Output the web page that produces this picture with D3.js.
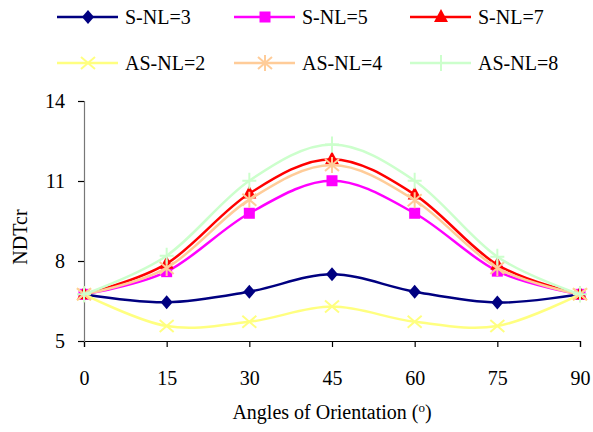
<!DOCTYPE html>
<html>
<head>
<meta charset="utf-8">
<script src="https://cdn.jsdelivr.net/npm/d3@7"></script>
<style>
  body { margin: 0; background: #fff; }
</style>
</head>
<body>
<svg id="chart" width="593" height="432"></svg>
<script>
// angles of orientation
const angles = [0, 15, 30, 45, 60, 75, 90];
const yTicks = [5, 8, 11, 14];

// NDTcr values
const sNL3 = [6.75, 6.45, 6.85, 7.5, 6.85, 6.44, 6.75];
const sNL5 = [6.75, 7.6, 9.79, 11.01, 9.79, 7.62, 6.75];
const sNL7 = [6.75, 7.9, 10.53, 11.82, 10.49, 7.86, 6.75];
const asNL2 = [6.75, 5.56, 5.72, 6.29, 5.72, 5.56, 6.75];
const asNL4 = [6.75, 7.74, 10.3, 11.6, 10.28, 7.74, 6.75];
const asNL8 = [6.75, 8.2, 11.01, 12.37, 11.01, 8.16, 6.75];

const seriesNames = ["S-NL=3", "S-NL=5", "S-NL=7", "AS-NL=2", "AS-NL=4", "AS-NL=8"];
const seriesValues = [sNL3, sNL5, sNL7, asNL2, asNL4, asNL8];
const seriesColors = ["#000080", "#ff00ff", "#ff0000", "#ffff80", "#ffcc99", "#ccffcc"];
const seriesMarkers = ["diamond", "square", "triangle", "x", "asterisk", "plus"];

const FONT = "'Liberation Serif'";

const svg = d3.select("#chart");
const x = d3.scaleLinear().domain([0, 90]).range([84, 580]);
const y = d3.scaleLinear().domain([5, 14]).range([341, 101]);

// axes
const xAxis = svg.append("g")
  .attr("transform", "translate(0," + y(5) + ")")
  .call(d3.axisBottom(x).tickValues(angles).tickSize(6).tickPadding(24));
const yAxis = svg.append("g")
  .attr("transform", "translate(" + x(0) + ",0)")
  .call(d3.axisLeft(y).tickValues(yTicks).tickSize(6).tickPadding(13));
[xAxis, yAxis].forEach(a => {
  a.attr("font-family", null).attr("font-size", null);
  a.select(".domain").attr("stroke", "#000").attr("stroke-width", 1.2);
  a.selectAll(".tick line").attr("stroke", "#000").attr("stroke-width", 1.2);
  a.selectAll(".tick text").attr("fill", "#000");
});
yAxis.select(".domain").attr("stroke", "#777");

svg.append("text")
  .attr("transform", "translate(27,237) rotate(-90)")
  .attr("text-anchor", "middle")
  .text("NDTcr");

const title = svg.append("text")
  .attr("x", 332).attr("y", 419)
  .attr("text-anchor", "middle")
  .text("Angles of Orientation (");
title.append("tspan").attr("dy", -7).text("o");
title.append("tspan").attr("dy", 7).text(")");

function drawMarker(g, type, color) {
  if (type === "diamond") {
    g.append("path").attr("d", "M0,-7L6,0L0,7L-6,0Z").attr("fill", color);
  } else if (type === "square") {
    g.append("rect").attr("x", -5.5).attr("y", -5.5).attr("width", 11).attr("height", 11).attr("fill", color);
  } else if (type === "triangle") {
    g.append("path").attr("d", "M0,-8L7,5L-7,5Z").attr("fill", color);
  } else if (type === "x") {
    g.append("path").attr("d", "M-7,-6L7,6M-7,6L7,-6").attr("stroke", color).attr("stroke-width", 2);
  } else if (type === "asterisk") {
    g.append("path").attr("d", "M-7,-6L7,6M-7,6L7,-6M0,-8L0,8").attr("stroke", color).attr("stroke-width", 2);
  } else if (type === "plus") {
    g.append("path").attr("d", "M-7,0L7,0M0,-8L0,8").attr("stroke", color).attr("stroke-width", 2);
  }
}

const line = d3.line()
  .x((d, i) => x(angles[i]))
  .y(d => y(d))
  .curve(d3.curveCatmullRom.alpha(0));

seriesValues.forEach((vals, k) => {
  const g = svg.append("g");
  g.append("path")
    .datum(vals)
    .attr("fill", "none")
    .attr("stroke", seriesColors[k])
    .attr("stroke-width", 2.5)
    .attr("d", line);
  vals.forEach((v, i) => {
    const m = g.append("g").attr("transform", "translate(" + x(angles[i]) + "," + y(v) + ")");
    drawMarker(m, seriesMarkers[k], seriesColors[k]);
  });
});

// legend
const legCols = [57, 234, 410];
const legRows = [17, 63];
seriesNames.forEach((name, k) => {
  const lx = legCols[k % 3], ly = legRows[Math.floor(k / 3)];
  const g = svg.append("g").attr("transform", "translate(" + lx + "," + ly + ")");
  g.append("line").attr("x1", 0).attr("x2", 61).attr("y1", 0).attr("y2", 0)
    .attr("stroke", seriesColors[k]).attr("stroke-width", 2.5);
  const m = g.append("g").attr("transform", "translate(31,0)");
  drawMarker(m, seriesMarkers[k], seriesColors[k]);
  g.append("text").attr("x", 68).attr("y", 7).text(name);
});

// serif text everywhere
svg.selectAll("text")
  .style("font-family", FONT)
  .style("font-size", "20px")
  .attr("fill", "#000");
title.select("tspan").style("font-size", "13px");
</script>
</body>
</html>
